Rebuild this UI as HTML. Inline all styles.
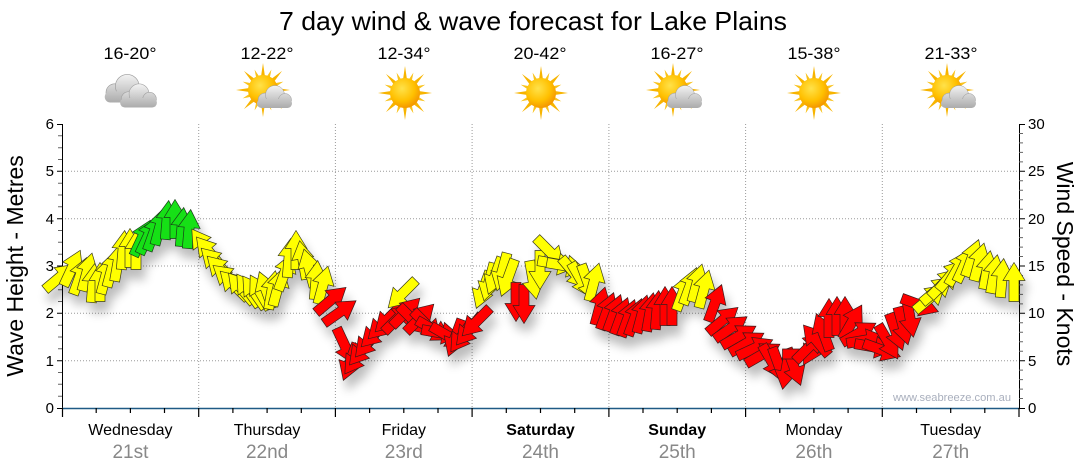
<!DOCTYPE html>
<html><head><meta charset="utf-8"><style>
html,body{margin:0;padding:0;background:#fff;}
svg{display:block;font-family:"Liberation Sans",Arial,sans-serif;}
.y{fill:#ffff00;stroke:#3a3a1a;stroke-width:0.7;}
.g{fill:#14e014;stroke:#1a3a1a;stroke-width:0.7;}
.r{fill:#ff0000;stroke:#3a1a1a;stroke-width:0.7;}
.ray{fill:#f7b400;}
.ray2{fill:#f9c21a;}
</style></head><body>
<svg width="1080" height="475" viewBox="0 0 1080 475" xmlns="http://www.w3.org/2000/svg">
<defs>
<filter id="sh" x="-10%" y="-20%" width="120%" height="160%">
<feGaussianBlur in="SourceAlpha" stdDeviation="5"/>
<feOffset dx="4" dy="10"/>
<feComponentTransfer><feFuncA type="linear" slope="0.26"/></feComponentTransfer>
<feMerge><feMergeNode/><feMergeNode in="SourceGraphic"/></feMerge>
</filter>
<radialGradient id="sunG" cx="0.4" cy="0.35" r="0.7">
<stop offset="0" stop-color="#ffe24a"/><stop offset="0.6" stop-color="#ffc000"/><stop offset="1" stop-color="#f29000"/>
</radialGradient>
<linearGradient id="cl" gradientUnits="userSpaceOnUse" x1="0" y1="-13" x2="0" y2="11">
<stop offset="0" stop-color="#f4f4f4"/><stop offset="1" stop-color="#a8a8a8"/>
</linearGradient>
</defs>

<!-- Title -->
<text x="279" y="30" font-size="26" textLength="508" lengthAdjust="spacingAndGlyphs" fill="#000">7 day wind &amp; wave forecast for Lake Plains</text>

<!-- Temps -->
<g font-size="16.5" fill="#000">
<text x="103.5" y="59" textLength="53" lengthAdjust="spacingAndGlyphs">16-20°</text>
<text x="240.5" y="59" textLength="53" lengthAdjust="spacingAndGlyphs">12-22°</text>
<text x="377.5" y="59" textLength="53" lengthAdjust="spacingAndGlyphs">12-34°</text>
<text x="513.5" y="59" textLength="53" lengthAdjust="spacingAndGlyphs">20-42°</text>
<text x="650.5" y="59" textLength="53" lengthAdjust="spacingAndGlyphs">16-27°</text>
<text x="787.5" y="59" textLength="53" lengthAdjust="spacingAndGlyphs">15-38°</text>
<text x="924.5" y="59" textLength="53" lengthAdjust="spacingAndGlyphs">21-33°</text>
</g>

<!-- Icons: Wednesday clouds -->
<g transform="translate(126 90) scale(1.25)" stroke="#9a9a9a" stroke-width="0.5">
<circle cx="-9" cy="2" r="7" fill="url(#cl)"/><circle cx="1" cy="-3" r="9.5" fill="url(#cl)"/><circle cx="11" cy="2" r="6.5" fill="url(#cl)"/>
<rect x="-17" y="1" width="35" height="9" rx="4.5" fill="url(#cl)" stroke="none"/>
</g>
<g transform="translate(138 97) scale(1.05)" stroke="#9a9a9a" stroke-width="0.5">
<circle cx="-9" cy="2" r="7" fill="url(#cl)"/><circle cx="1" cy="-3" r="9.5" fill="url(#cl)"/><circle cx="11" cy="2" r="6.5" fill="url(#cl)"/>
<rect x="-17" y="1" width="35" height="9" rx="4.5" fill="url(#cl)" stroke="none"/>
</g>

<g transform="translate(263 90)">
<g class="ray"><polygon points="-2.2,-12 0,-27 2.2,-12"/><polygon points="-2.2,-12 0,-27 2.2,-12" transform="rotate(45)"/><polygon points="-2.2,-12 0,-27 2.2,-12" transform="rotate(90)"/><polygon points="-2.2,-12 0,-27 2.2,-12" transform="rotate(135)"/><polygon points="-2.2,-12 0,-27 2.2,-12" transform="rotate(180)"/><polygon points="-2.2,-12 0,-27 2.2,-12" transform="rotate(225)"/><polygon points="-2.2,-12 0,-27 2.2,-12" transform="rotate(270)"/><polygon points="-2.2,-12 0,-27 2.2,-12" transform="rotate(315)"/></g>
<g class="ray2"><polygon points="-2,-12 0,-22 2,-12" transform="rotate(22.5)"/><polygon points="-2,-12 0,-22 2,-12" transform="rotate(67.5)"/><polygon points="-2,-12 0,-22 2,-12" transform="rotate(112.5)"/><polygon points="-2,-12 0,-22 2,-12" transform="rotate(157.5)"/><polygon points="-2,-12 0,-22 2,-12" transform="rotate(202.5)"/><polygon points="-2,-12 0,-22 2,-12" transform="rotate(247.5)"/><polygon points="-2,-12 0,-22 2,-12" transform="rotate(292.5)"/><polygon points="-2,-12 0,-22 2,-12" transform="rotate(337.5)"/></g>
<circle r="15" fill="url(#sunG)"/>
</g>
<g transform="translate(274 98)" stroke="#999" stroke-width="0.5">
<circle cx="-9" cy="2" r="7" fill="url(#cl)"/><circle cx="1" cy="-3" r="9.5" fill="url(#cl)"/><circle cx="11" cy="2" r="6.5" fill="url(#cl)"/>
<rect x="-17" y="1" width="35" height="9" rx="4.5" fill="url(#cl)" stroke="none"/>
</g>

<g transform="translate(405 93)">
<g class="ray"><polygon points="-2.2,-12 0,-27 2.2,-12"/><polygon points="-2.2,-12 0,-27 2.2,-12" transform="rotate(45)"/><polygon points="-2.2,-12 0,-27 2.2,-12" transform="rotate(90)"/><polygon points="-2.2,-12 0,-27 2.2,-12" transform="rotate(135)"/><polygon points="-2.2,-12 0,-27 2.2,-12" transform="rotate(180)"/><polygon points="-2.2,-12 0,-27 2.2,-12" transform="rotate(225)"/><polygon points="-2.2,-12 0,-27 2.2,-12" transform="rotate(270)"/><polygon points="-2.2,-12 0,-27 2.2,-12" transform="rotate(315)"/></g>
<g class="ray2"><polygon points="-2,-12 0,-22 2,-12" transform="rotate(22.5)"/><polygon points="-2,-12 0,-22 2,-12" transform="rotate(67.5)"/><polygon points="-2,-12 0,-22 2,-12" transform="rotate(112.5)"/><polygon points="-2,-12 0,-22 2,-12" transform="rotate(157.5)"/><polygon points="-2,-12 0,-22 2,-12" transform="rotate(202.5)"/><polygon points="-2,-12 0,-22 2,-12" transform="rotate(247.5)"/><polygon points="-2,-12 0,-22 2,-12" transform="rotate(292.5)"/><polygon points="-2,-12 0,-22 2,-12" transform="rotate(337.5)"/></g>
<circle r="15" fill="url(#sunG)"/>
</g>

<g transform="translate(541 93)">
<g class="ray"><polygon points="-2.2,-12 0,-27 2.2,-12"/><polygon points="-2.2,-12 0,-27 2.2,-12" transform="rotate(45)"/><polygon points="-2.2,-12 0,-27 2.2,-12" transform="rotate(90)"/><polygon points="-2.2,-12 0,-27 2.2,-12" transform="rotate(135)"/><polygon points="-2.2,-12 0,-27 2.2,-12" transform="rotate(180)"/><polygon points="-2.2,-12 0,-27 2.2,-12" transform="rotate(225)"/><polygon points="-2.2,-12 0,-27 2.2,-12" transform="rotate(270)"/><polygon points="-2.2,-12 0,-27 2.2,-12" transform="rotate(315)"/></g>
<g class="ray2"><polygon points="-2,-12 0,-22 2,-12" transform="rotate(22.5)"/><polygon points="-2,-12 0,-22 2,-12" transform="rotate(67.5)"/><polygon points="-2,-12 0,-22 2,-12" transform="rotate(112.5)"/><polygon points="-2,-12 0,-22 2,-12" transform="rotate(157.5)"/><polygon points="-2,-12 0,-22 2,-12" transform="rotate(202.5)"/><polygon points="-2,-12 0,-22 2,-12" transform="rotate(247.5)"/><polygon points="-2,-12 0,-22 2,-12" transform="rotate(292.5)"/><polygon points="-2,-12 0,-22 2,-12" transform="rotate(337.5)"/></g>
<circle r="15" fill="url(#sunG)"/>
</g>

<g transform="translate(673 90)">
<g class="ray"><polygon points="-2.2,-12 0,-27 2.2,-12"/><polygon points="-2.2,-12 0,-27 2.2,-12" transform="rotate(45)"/><polygon points="-2.2,-12 0,-27 2.2,-12" transform="rotate(90)"/><polygon points="-2.2,-12 0,-27 2.2,-12" transform="rotate(135)"/><polygon points="-2.2,-12 0,-27 2.2,-12" transform="rotate(180)"/><polygon points="-2.2,-12 0,-27 2.2,-12" transform="rotate(225)"/><polygon points="-2.2,-12 0,-27 2.2,-12" transform="rotate(270)"/><polygon points="-2.2,-12 0,-27 2.2,-12" transform="rotate(315)"/></g>
<g class="ray2"><polygon points="-2,-12 0,-22 2,-12" transform="rotate(22.5)"/><polygon points="-2,-12 0,-22 2,-12" transform="rotate(67.5)"/><polygon points="-2,-12 0,-22 2,-12" transform="rotate(112.5)"/><polygon points="-2,-12 0,-22 2,-12" transform="rotate(157.5)"/><polygon points="-2,-12 0,-22 2,-12" transform="rotate(202.5)"/><polygon points="-2,-12 0,-22 2,-12" transform="rotate(247.5)"/><polygon points="-2,-12 0,-22 2,-12" transform="rotate(292.5)"/><polygon points="-2,-12 0,-22 2,-12" transform="rotate(337.5)"/></g>
<circle r="15" fill="url(#sunG)"/>
</g>
<g transform="translate(684 98)" stroke="#999" stroke-width="0.5">
<circle cx="-9" cy="2" r="7" fill="url(#cl)"/><circle cx="1" cy="-3" r="9.5" fill="url(#cl)"/><circle cx="11" cy="2" r="6.5" fill="url(#cl)"/>
<rect x="-17" y="1" width="35" height="9" rx="4.5" fill="url(#cl)" stroke="none"/>
</g>

<g transform="translate(814 93)">
<g class="ray"><polygon points="-2.2,-12 0,-27 2.2,-12"/><polygon points="-2.2,-12 0,-27 2.2,-12" transform="rotate(45)"/><polygon points="-2.2,-12 0,-27 2.2,-12" transform="rotate(90)"/><polygon points="-2.2,-12 0,-27 2.2,-12" transform="rotate(135)"/><polygon points="-2.2,-12 0,-27 2.2,-12" transform="rotate(180)"/><polygon points="-2.2,-12 0,-27 2.2,-12" transform="rotate(225)"/><polygon points="-2.2,-12 0,-27 2.2,-12" transform="rotate(270)"/><polygon points="-2.2,-12 0,-27 2.2,-12" transform="rotate(315)"/></g>
<g class="ray2"><polygon points="-2,-12 0,-22 2,-12" transform="rotate(22.5)"/><polygon points="-2,-12 0,-22 2,-12" transform="rotate(67.5)"/><polygon points="-2,-12 0,-22 2,-12" transform="rotate(112.5)"/><polygon points="-2,-12 0,-22 2,-12" transform="rotate(157.5)"/><polygon points="-2,-12 0,-22 2,-12" transform="rotate(202.5)"/><polygon points="-2,-12 0,-22 2,-12" transform="rotate(247.5)"/><polygon points="-2,-12 0,-22 2,-12" transform="rotate(292.5)"/><polygon points="-2,-12 0,-22 2,-12" transform="rotate(337.5)"/></g>
<circle r="15" fill="url(#sunG)"/>
</g>

<g transform="translate(947 90)">
<g class="ray"><polygon points="-2.2,-12 0,-27 2.2,-12"/><polygon points="-2.2,-12 0,-27 2.2,-12" transform="rotate(45)"/><polygon points="-2.2,-12 0,-27 2.2,-12" transform="rotate(90)"/><polygon points="-2.2,-12 0,-27 2.2,-12" transform="rotate(135)"/><polygon points="-2.2,-12 0,-27 2.2,-12" transform="rotate(180)"/><polygon points="-2.2,-12 0,-27 2.2,-12" transform="rotate(225)"/><polygon points="-2.2,-12 0,-27 2.2,-12" transform="rotate(270)"/><polygon points="-2.2,-12 0,-27 2.2,-12" transform="rotate(315)"/></g>
<g class="ray2"><polygon points="-2,-12 0,-22 2,-12" transform="rotate(22.5)"/><polygon points="-2,-12 0,-22 2,-12" transform="rotate(67.5)"/><polygon points="-2,-12 0,-22 2,-12" transform="rotate(112.5)"/><polygon points="-2,-12 0,-22 2,-12" transform="rotate(157.5)"/><polygon points="-2,-12 0,-22 2,-12" transform="rotate(202.5)"/><polygon points="-2,-12 0,-22 2,-12" transform="rotate(247.5)"/><polygon points="-2,-12 0,-22 2,-12" transform="rotate(292.5)"/><polygon points="-2,-12 0,-22 2,-12" transform="rotate(337.5)"/></g>
<circle r="15" fill="url(#sunG)"/>
</g>
<g transform="translate(958 98)" stroke="#999" stroke-width="0.5">
<circle cx="-9" cy="2" r="7" fill="url(#cl)"/><circle cx="1" cy="-3" r="9.5" fill="url(#cl)"/><circle cx="11" cy="2" r="6.5" fill="url(#cl)"/>
<rect x="-17" y="1" width="35" height="9" rx="4.5" fill="url(#cl)" stroke="none"/>
</g>

<!-- Grid -->
<g stroke="#9a9a9a" stroke-width="1" stroke-dasharray="1 2" fill="none">
<path d="M62 360.7H1019M62 313.3H1019M62 266H1019M62 218.7H1019M62 171.3H1019"/>
<path d="M198.7 124V408M335.4 124V408M472.1 124V408M608.9 124V408M745.6 124V408M882.3 124V408"/>
</g>

<!-- Left axis -->
<path d="M62.5 124V408" stroke="#000" stroke-width="1"/>
<path d="M57 408.5h5M57 360.7h5M57 313.3h5M57 266h5M57 218.7h5M57 171.3h5M57 124.5h5" stroke="#000" stroke-width="1"/>
<path d="M58 396.2h4M58 384.3h4M58 372.5h4M58 348.8h4M58 337h4M58 325.2h4M58 301.5h4M58 289.7h4M58 277.8h4M58 254.2h4M58 242.3h4M58 230.5h4M58 206.8h4M58 195h4M58 183.2h4M58 159.5h4M58 147.7h4M58 135.8h4" stroke="#666" stroke-width="1"/>
<g font-size="15" text-anchor="end" fill="#000">
<text x="54" y="413">0</text><text x="54" y="366">1</text><text x="54" y="318">2</text><text x="54" y="271">3</text><text x="54" y="224">4</text><text x="54" y="176">5</text><text x="54" y="129">6</text>
</g>

<!-- Right axis -->
<path d="M1019.5 124V408" stroke="#000" stroke-width="1"/>
<path d="M1019 408.5h6M1019 360.7h6M1019 313.3h6M1019 266h6M1019 218.7h6M1019 171.3h6M1019 124.5h6" stroke="#000" stroke-width="1"/>
<path d="M1019 398.5h4M1019 389.1h4M1019 379.6h4M1019 370.1h4M1019 351.2h4M1019 341.7h4M1019 332.3h4M1019 322.8h4M1019 303.9h4M1019 294.4h4M1019 284.9h4M1019 275.5h4M1019 256.5h4M1019 247.1h4M1019 237.6h4M1019 228.1h4M1019 209.2h4M1019 199.7h4M1019 190.3h4M1019 180.8h4M1019 161.9h4M1019 152.4h4M1019 142.9h4M1019 133.5h4" stroke="#666" stroke-width="1"/>
<g font-size="15" fill="#000">
<text x="1028" y="413">0</text><text x="1028" y="366">5</text><text x="1028" y="318">10</text><text x="1028" y="271">15</text><text x="1028" y="224">20</text><text x="1028" y="176">25</text><text x="1028" y="129">30</text>
</g>

<!-- Axis titles -->
<text transform="translate(23 266) rotate(-90)" font-size="23" text-anchor="middle" fill="#000">Wave Height - Metres</text>
<text transform="translate(1057 264) rotate(90)" font-size="23" text-anchor="middle" fill="#000">Wind Speed - Knots</text>

<!-- Watermark -->
<text x="893" y="401" font-size="11" fill="#a9afbd" textLength="118" lengthAdjust="spacingAndGlyphs">www.seabreeze.com.au</text>

<!-- Arrows -->
<g filter="url(#sh)">
<polygon class="y" transform="translate(60 277) rotate(50)" points="0,-19.5 11,-1.5 5,-1.5 5,19.5 -5,19.5 -5,-1.5 -11,-1.5"/>
<polygon class="y" transform="translate(72 268) rotate(25)" points="0,-19.5 11,-1.5 5,-1.5 5,19.5 -5,19.5 -5,-1.5 -11,-1.5"/>
<polygon class="y" transform="translate(80 276) rotate(20)" points="0,-19.5 11,-1.5 5,-1.5 5,19.5 -5,19.5 -5,-1.5 -11,-1.5"/>
<polygon class="y" transform="translate(87 272) rotate(15)" points="0,-19.5 11,-1.5 5,-1.5 5,19.5 -5,19.5 -5,-1.5 -11,-1.5"/>
<polygon class="y" transform="translate(93 283) rotate(5)" points="0,-19.5 11,-1.5 5,-1.5 5,19.5 -5,19.5 -5,-1.5 -11,-1.5"/>
<polygon class="y" transform="translate(100 282) rotate(0)" points="0,-19.5 11,-1.5 5,-1.5 5,19.5 -5,19.5 -5,-1.5 -11,-1.5"/>
<polygon class="y" transform="translate(106 275) rotate(15)" points="0,-19.5 11,-1.5 5,-1.5 5,19.5 -5,19.5 -5,-1.5 -11,-1.5"/>
<polygon class="y" transform="translate(112 268) rotate(15)" points="0,-19.5 11,-1.5 5,-1.5 5,19.5 -5,19.5 -5,-1.5 -11,-1.5"/>
<polygon class="y" transform="translate(118 262) rotate(10)" points="0,-19.5 11,-1.5 5,-1.5 5,19.5 -5,19.5 -5,-1.5 -11,-1.5"/>
<polygon class="y" transform="translate(123 250) rotate(5)" points="0,-19.5 11,-1.5 5,-1.5 5,19.5 -5,19.5 -5,-1.5 -11,-1.5"/>
<polygon class="y" transform="translate(130 248) rotate(0)" points="0,-19.5 11,-1.5 5,-1.5 5,19.5 -5,19.5 -5,-1.5 -11,-1.5"/>
<polygon class="y" transform="translate(136 250) rotate(0)" points="0,-19.5 11,-1.5 5,-1.5 5,19.5 -5,19.5 -5,-1.5 -11,-1.5"/>
<polygon class="g" transform="translate(142 238) rotate(25)" points="0,-19.5 11,-1.5 5,-1.5 5,19.5 -5,19.5 -5,-1.5 -11,-1.5"/>
<polygon class="g" transform="translate(148 236) rotate(25)" points="0,-19.5 11,-1.5 5,-1.5 5,19.5 -5,19.5 -5,-1.5 -11,-1.5"/>
<polygon class="g" transform="translate(154 232) rotate(20)" points="0,-19.5 11,-1.5 5,-1.5 5,19.5 -5,19.5 -5,-1.5 -11,-1.5"/>
<polygon class="g" transform="translate(160 226) rotate(15)" points="0,-19.5 11,-1.5 5,-1.5 5,19.5 -5,19.5 -5,-1.5 -11,-1.5"/>
<polygon class="g" transform="translate(167 220) rotate(5)" points="0,-19.5 11,-1.5 5,-1.5 5,19.5 -5,19.5 -5,-1.5 -11,-1.5"/>
<polygon class="g" transform="translate(175 219) rotate(0)" points="0,-19.5 11,-1.5 5,-1.5 5,19.5 -5,19.5 -5,-1.5 -11,-1.5"/>
<polygon class="g" transform="translate(182 227) rotate(5)" points="0,-19.5 11,-1.5 5,-1.5 5,19.5 -5,19.5 -5,-1.5 -11,-1.5"/>
<polygon class="g" transform="translate(189 229) rotate(5)" points="0,-19.5 11,-1.5 5,-1.5 5,19.5 -5,19.5 -5,-1.5 -11,-1.5"/>

<polygon class="y" transform="translate(203 245) rotate(-35)" points="0,-19.5 11,-1.5 5,-1.5 5,19.5 -5,19.5 -5,-1.5 -11,-1.5"/>
<polygon class="y" transform="translate(209 252) rotate(-40)" points="0,-19.5 11,-1.5 5,-1.5 5,19.5 -5,19.5 -5,-1.5 -11,-1.5"/>
<polygon class="y" transform="translate(215 262) rotate(-45)" points="0,-19.5 11,-1.5 5,-1.5 5,19.5 -5,19.5 -5,-1.5 -11,-1.5"/>
<polygon class="y" transform="translate(221 270) rotate(-45)" points="0,-19.5 11,-1.5 5,-1.5 5,19.5 -5,19.5 -5,-1.5 -11,-1.5"/>
<polygon class="y" transform="translate(228 278) rotate(-50)" points="0,-19.5 11,-1.5 5,-1.5 5,19.5 -5,19.5 -5,-1.5 -11,-1.5"/>
<polygon class="y" transform="translate(234 285) rotate(-45)" points="0,-19.5 11,-1.5 5,-1.5 5,19.5 -5,19.5 -5,-1.5 -11,-1.5"/>
<polygon class="y" transform="translate(241 288) rotate(-40)" points="0,-19.5 11,-1.5 5,-1.5 5,19.5 -5,19.5 -5,-1.5 -11,-1.5"/>
<polygon class="y" transform="translate(248 290) rotate(-35)" points="0,-19.5 11,-1.5 5,-1.5 5,19.5 -5,19.5 -5,-1.5 -11,-1.5"/>
<polygon class="y" transform="translate(254 292) rotate(-35)" points="0,-19.5 11,-1.5 5,-1.5 5,19.5 -5,19.5 -5,-1.5 -11,-1.5"/>
<polygon class="y" transform="translate(260 292) rotate(-30)" points="0,-19.5 11,-1.5 5,-1.5 5,19.5 -5,19.5 -5,-1.5 -11,-1.5"/>
<polygon class="y" transform="translate(266 290) rotate(-20)" points="0,-19.5 11,-1.5 5,-1.5 5,19.5 -5,19.5 -5,-1.5 -11,-1.5"/>
<polygon class="y" transform="translate(272 290) rotate(10)" points="0,-19.5 11,-1.5 5,-1.5 5,19.5 -5,19.5 -5,-1.5 -11,-1.5"/>
<polygon class="y" transform="translate(278 287) rotate(15)" points="0,-19.5 11,-1.5 5,-1.5 5,19.5 -5,19.5 -5,-1.5 -11,-1.5"/>
<polygon class="y" transform="translate(285 272) rotate(20)" points="0,-19.5 11,-1.5 5,-1.5 5,19.5 -5,19.5 -5,-1.5 -11,-1.5"/>
<polygon class="y" transform="translate(289 258) rotate(5)" points="0,-19.5 11,-1.5 5,-1.5 5,19.5 -5,19.5 -5,-1.5 -11,-1.5"/>
<polygon class="y" transform="translate(296 250) rotate(0)" points="0,-19.5 11,-1.5 5,-1.5 5,19.5 -5,19.5 -5,-1.5 -11,-1.5"/>
<polygon class="y" transform="translate(303 260) rotate(-10)" points="0,-19.5 11,-1.5 5,-1.5 5,19.5 -5,19.5 -5,-1.5 -11,-1.5"/>
<polygon class="y" transform="translate(309 268) rotate(-15)" points="0,-19.5 11,-1.5 5,-1.5 5,19.5 -5,19.5 -5,-1.5 -11,-1.5"/>
<polygon class="y" transform="translate(316 280) rotate(5)" points="0,-19.5 11,-1.5 5,-1.5 5,19.5 -5,19.5 -5,-1.5 -11,-1.5"/>
<polygon class="y" transform="translate(323 285) rotate(15)" points="0,-19.5 11,-1.5 5,-1.5 5,19.5 -5,19.5 -5,-1.5 -11,-1.5"/>

<polygon class="r" transform="translate(331 300) rotate(50)" points="0,-19.5 11,-1.5 5,-1.5 5,19.5 -5,19.5 -5,-1.5 -11,-1.5"/>
<polygon class="r" transform="translate(340 312) rotate(55)" points="0,-19.5 11,-1.5 5,-1.5 5,19.5 -5,19.5 -5,-1.5 -11,-1.5"/>
<polygon class="r" transform="translate(345 346) rotate(155)" points="0,-19.5 11,-1.5 5,-1.5 5,19.5 -5,19.5 -5,-1.5 -11,-1.5"/>
<polygon class="r" transform="translate(350 362) rotate(200)" points="0,-19.5 11,-1.5 5,-1.5 5,19.5 -5,19.5 -5,-1.5 -11,-1.5"/>
<polygon class="r" transform="translate(356 358) rotate(215)" points="0,-19.5 11,-1.5 5,-1.5 5,19.5 -5,19.5 -5,-1.5 -11,-1.5"/>
<polygon class="r" transform="translate(362 350) rotate(220)" points="0,-19.5 11,-1.5 5,-1.5 5,19.5 -5,19.5 -5,-1.5 -11,-1.5"/>
<polygon class="r" transform="translate(368 342) rotate(220)" points="0,-19.5 11,-1.5 5,-1.5 5,19.5 -5,19.5 -5,-1.5 -11,-1.5"/>
<polygon class="r" transform="translate(375 333) rotate(225)" points="0,-19.5 11,-1.5 5,-1.5 5,19.5 -5,19.5 -5,-1.5 -11,-1.5"/>
<polygon class="r" transform="translate(382 325) rotate(225)" points="0,-19.5 11,-1.5 5,-1.5 5,19.5 -5,19.5 -5,-1.5 -11,-1.5"/>
<polygon class="r" transform="translate(389 318) rotate(225)" points="0,-19.5 11,-1.5 5,-1.5 5,19.5 -5,19.5 -5,-1.5 -11,-1.5"/>
<polygon class="y" transform="translate(402 294) rotate(225)" points="0,-19.5 11,-1.5 5,-1.5 5,19.5 -5,19.5 -5,-1.5 -11,-1.5"/>
<polygon class="r" transform="translate(398 318) rotate(45)" points="0,-19.5 11,-1.5 5,-1.5 5,19.5 -5,19.5 -5,-1.5 -11,-1.5"/>
<polygon class="r" transform="translate(406 312) rotate(45)" points="0,-19.5 11,-1.5 5,-1.5 5,19.5 -5,19.5 -5,-1.5 -11,-1.5"/>
<polygon class="r" transform="translate(413 320) rotate(135)" points="0,-19.5 11,-1.5 5,-1.5 5,19.5 -5,19.5 -5,-1.5 -11,-1.5"/>
<polygon class="r" transform="translate(420 318) rotate(45)" points="0,-19.5 11,-1.5 5,-1.5 5,19.5 -5,19.5 -5,-1.5 -11,-1.5"/>
<polygon class="r" transform="translate(427 325) rotate(135)" points="0,-19.5 11,-1.5 5,-1.5 5,19.5 -5,19.5 -5,-1.5 -11,-1.5"/>
<polygon class="r" transform="translate(434 330) rotate(120)" points="0,-19.5 11,-1.5 5,-1.5 5,19.5 -5,19.5 -5,-1.5 -11,-1.5"/>
<polygon class="r" transform="translate(441 333) rotate(100)" points="0,-19.5 11,-1.5 5,-1.5 5,19.5 -5,19.5 -5,-1.5 -11,-1.5"/>
<polygon class="r" transform="translate(448 336) rotate(120)" points="0,-19.5 11,-1.5 5,-1.5 5,19.5 -5,19.5 -5,-1.5 -11,-1.5"/>
<polygon class="r" transform="translate(455 338) rotate(200)" points="0,-19.5 11,-1.5 5,-1.5 5,19.5 -5,19.5 -5,-1.5 -11,-1.5"/>
<polygon class="r" transform="translate(462 336) rotate(215)" points="0,-19.5 11,-1.5 5,-1.5 5,19.5 -5,19.5 -5,-1.5 -11,-1.5"/>
<polygon class="r" transform="translate(469 330) rotate(220)" points="0,-19.5 11,-1.5 5,-1.5 5,19.5 -5,19.5 -5,-1.5 -11,-1.5"/>
<polygon class="r" transform="translate(476 322) rotate(225)" points="0,-19.5 11,-1.5 5,-1.5 5,19.5 -5,19.5 -5,-1.5 -11,-1.5"/>

<polygon class="y" transform="translate(483 290) rotate(200)" points="0,-19.5 11,-1.5 5,-1.5 5,19.5 -5,19.5 -5,-1.5 -11,-1.5"/>
<polygon class="y" transform="translate(489 282) rotate(195)" points="0,-19.5 11,-1.5 5,-1.5 5,19.5 -5,19.5 -5,-1.5 -11,-1.5"/>
<polygon class="y" transform="translate(495 276) rotate(200)" points="0,-19.5 11,-1.5 5,-1.5 5,19.5 -5,19.5 -5,-1.5 -11,-1.5"/>
<polygon class="y" transform="translate(502 272) rotate(195)" points="0,-19.5 11,-1.5 5,-1.5 5,19.5 -5,19.5 -5,-1.5 -11,-1.5"/>
<polygon class="y" transform="translate(508 278) rotate(200)" points="0,-19.5 11,-1.5 5,-1.5 5,19.5 -5,19.5 -5,-1.5 -11,-1.5"/>
<polygon class="r" transform="translate(516 302) rotate(180)" points="0,-19.5 11,-1.5 5,-1.5 5,19.5 -5,19.5 -5,-1.5 -11,-1.5"/>
<polygon class="r" transform="translate(524 304) rotate(180)" points="0,-19.5 11,-1.5 5,-1.5 5,19.5 -5,19.5 -5,-1.5 -11,-1.5"/>
<polygon class="y" transform="translate(533 280) rotate(170)" points="0,-19.5 11,-1.5 5,-1.5 5,19.5 -5,19.5 -5,-1.5 -11,-1.5"/>
<polygon class="y" transform="translate(540 270) rotate(180)" points="0,-19.5 11,-1.5 5,-1.5 5,19.5 -5,19.5 -5,-1.5 -11,-1.5"/>
<polygon class="y" transform="translate(550 252) rotate(135)" points="0,-19.5 11,-1.5 5,-1.5 5,19.5 -5,19.5 -5,-1.5 -11,-1.5"/>
<polygon class="y" transform="translate(557 264) rotate(100)" points="0,-19.5 11,-1.5 5,-1.5 5,19.5 -5,19.5 -5,-1.5 -11,-1.5"/>
<polygon class="y" transform="translate(566 266) rotate(100)" points="0,-19.5 11,-1.5 5,-1.5 5,19.5 -5,19.5 -5,-1.5 -11,-1.5"/>
<polygon class="y" transform="translate(574 273) rotate(140)" points="0,-19.5 11,-1.5 5,-1.5 5,19.5 -5,19.5 -5,-1.5 -11,-1.5"/>
<polygon class="y" transform="translate(581 280) rotate(150)" points="0,-19.5 11,-1.5 5,-1.5 5,19.5 -5,19.5 -5,-1.5 -11,-1.5"/>
<polygon class="y" transform="translate(588 283) rotate(160)" points="0,-19.5 11,-1.5 5,-1.5 5,19.5 -5,19.5 -5,-1.5 -11,-1.5"/>
<polygon class="y" transform="translate(594 282) rotate(15)" points="0,-19.5 11,-1.5 5,-1.5 5,19.5 -5,19.5 -5,-1.5 -11,-1.5"/>

<polygon class="r" transform="translate(600 306) rotate(15)" points="0,-19.5 11,-1.5 5,-1.5 5,19.5 -5,19.5 -5,-1.5 -11,-1.5"/>
<polygon class="r" transform="translate(607 311) rotate(20)" points="0,-19.5 11,-1.5 5,-1.5 5,19.5 -5,19.5 -5,-1.5 -11,-1.5"/>
<polygon class="r" transform="translate(614 313) rotate(20)" points="0,-19.5 11,-1.5 5,-1.5 5,19.5 -5,19.5 -5,-1.5 -11,-1.5"/>
<polygon class="r" transform="translate(621 316) rotate(20)" points="0,-19.5 11,-1.5 5,-1.5 5,19.5 -5,19.5 -5,-1.5 -11,-1.5"/>
<polygon class="r" transform="translate(628 318) rotate(20)" points="0,-19.5 11,-1.5 5,-1.5 5,19.5 -5,19.5 -5,-1.5 -11,-1.5"/>
<polygon class="r" transform="translate(635 317) rotate(20)" points="0,-19.5 11,-1.5 5,-1.5 5,19.5 -5,19.5 -5,-1.5 -11,-1.5"/>
<polygon class="r" transform="translate(642 314) rotate(15)" points="0,-19.5 11,-1.5 5,-1.5 5,19.5 -5,19.5 -5,-1.5 -11,-1.5"/>
<polygon class="r" transform="translate(650 312) rotate(10)" points="0,-19.5 11,-1.5 5,-1.5 5,19.5 -5,19.5 -5,-1.5 -11,-1.5"/>
<polygon class="r" transform="translate(657 310) rotate(5)" points="0,-19.5 11,-1.5 5,-1.5 5,19.5 -5,19.5 -5,-1.5 -11,-1.5"/>
<polygon class="r" transform="translate(665 306) rotate(0)" points="0,-19.5 11,-1.5 5,-1.5 5,19.5 -5,19.5 -5,-1.5 -11,-1.5"/>
<polygon class="r" transform="translate(672 306) rotate(0)" points="0,-19.5 11,-1.5 5,-1.5 5,19.5 -5,19.5 -5,-1.5 -11,-1.5"/>
<polygon class="y" transform="translate(683 292) rotate(20)" points="0,-19.5 11,-1.5 5,-1.5 5,19.5 -5,19.5 -5,-1.5 -11,-1.5"/>
<polygon class="y" transform="translate(690 286) rotate(20)" points="0,-19.5 11,-1.5 5,-1.5 5,19.5 -5,19.5 -5,-1.5 -11,-1.5"/>
<polygon class="y" transform="translate(697 283) rotate(15)" points="0,-19.5 11,-1.5 5,-1.5 5,19.5 -5,19.5 -5,-1.5 -11,-1.5"/>
<polygon class="y" transform="translate(704 289) rotate(15)" points="0,-19.5 11,-1.5 5,-1.5 5,19.5 -5,19.5 -5,-1.5 -11,-1.5"/>
<polygon class="r" transform="translate(715 303) rotate(20)" points="0,-19.5 11,-1.5 5,-1.5 5,19.5 -5,19.5 -5,-1.5 -11,-1.5"/>
<polygon class="r" transform="translate(723 320) rotate(50)" points="0,-19.5 11,-1.5 5,-1.5 5,19.5 -5,19.5 -5,-1.5 -11,-1.5"/>
<polygon class="r" transform="translate(731 328) rotate(55)" points="0,-19.5 11,-1.5 5,-1.5 5,19.5 -5,19.5 -5,-1.5 -11,-1.5"/>
<polygon class="r" transform="translate(739 336) rotate(60)" points="0,-19.5 11,-1.5 5,-1.5 5,19.5 -5,19.5 -5,-1.5 -11,-1.5"/>
<polygon class="r" transform="translate(747 343) rotate(60)" points="0,-19.5 11,-1.5 5,-1.5 5,19.5 -5,19.5 -5,-1.5 -11,-1.5"/>
<polygon class="r" transform="translate(755 348) rotate(65)" points="0,-19.5 11,-1.5 5,-1.5 5,19.5 -5,19.5 -5,-1.5 -11,-1.5"/>
<polygon class="r" transform="translate(763 354) rotate(60)" points="0,-19.5 11,-1.5 5,-1.5 5,19.5 -5,19.5 -5,-1.5 -11,-1.5"/>

<polygon class="r" transform="translate(772 362) rotate(150)" points="0,-19.5 11,-1.5 5,-1.5 5,19.5 -5,19.5 -5,-1.5 -11,-1.5"/>
<polygon class="r" transform="translate(779 366) rotate(160)" points="0,-19.5 11,-1.5 5,-1.5 5,19.5 -5,19.5 -5,-1.5 -11,-1.5"/>
<polygon class="r" transform="translate(786 370) rotate(190)" points="0,-19.5 11,-1.5 5,-1.5 5,19.5 -5,19.5 -5,-1.5 -11,-1.5"/>
<polygon class="r" transform="translate(794 367) rotate(160)" points="0,-19.5 11,-1.5 5,-1.5 5,19.5 -5,19.5 -5,-1.5 -11,-1.5"/>
<polygon class="r" transform="translate(802 354) rotate(90)" points="0,-19.5 11,-1.5 5,-1.5 5,19.5 -5,19.5 -5,-1.5 -11,-1.5"/>
<polygon class="r" transform="translate(809 347) rotate(45)" points="0,-19.5 11,-1.5 5,-1.5 5,19.5 -5,19.5 -5,-1.5 -11,-1.5"/>
<polygon class="r" transform="translate(816 340) rotate(-40)" points="0,-19.5 11,-1.5 5,-1.5 5,19.5 -5,19.5 -5,-1.5 -11,-1.5"/>
<polygon class="r" transform="translate(823 332) rotate(-20)" points="0,-19.5 11,-1.5 5,-1.5 5,19.5 -5,19.5 -5,-1.5 -11,-1.5"/>
<polygon class="r" transform="translate(829 318) rotate(0)" points="0,-19.5 11,-1.5 5,-1.5 5,19.5 -5,19.5 -5,-1.5 -11,-1.5"/>
<polygon class="r" transform="translate(837 316) rotate(0)" points="0,-19.5 11,-1.5 5,-1.5 5,19.5 -5,19.5 -5,-1.5 -11,-1.5"/>
<polygon class="r" transform="translate(845 316) rotate(0)" points="0,-19.5 11,-1.5 5,-1.5 5,19.5 -5,19.5 -5,-1.5 -11,-1.5"/>
<polygon class="r" transform="translate(852 322) rotate(30)" points="0,-19.5 11,-1.5 5,-1.5 5,19.5 -5,19.5 -5,-1.5 -11,-1.5"/>
<polygon class="r" transform="translate(859 333) rotate(60)" points="0,-19.5 11,-1.5 5,-1.5 5,19.5 -5,19.5 -5,-1.5 -11,-1.5"/>
<polygon class="r" transform="translate(866 340) rotate(80)" points="0,-19.5 11,-1.5 5,-1.5 5,19.5 -5,19.5 -5,-1.5 -11,-1.5"/>
<polygon class="r" transform="translate(874 347) rotate(100)" points="0,-19.5 11,-1.5 5,-1.5 5,19.5 -5,19.5 -5,-1.5 -11,-1.5"/>
<polygon class="r" transform="translate(882 350) rotate(110)" points="0,-19.5 11,-1.5 5,-1.5 5,19.5 -5,19.5 -5,-1.5 -11,-1.5"/>
<polygon class="r" transform="translate(888 342) rotate(150)" points="0,-19.5 11,-1.5 5,-1.5 5,19.5 -5,19.5 -5,-1.5 -11,-1.5"/>
<polygon class="r" transform="translate(896 332) rotate(160)" points="0,-19.5 11,-1.5 5,-1.5 5,19.5 -5,19.5 -5,-1.5 -11,-1.5"/>
<polygon class="r" transform="translate(903 326) rotate(165)" points="0,-19.5 11,-1.5 5,-1.5 5,19.5 -5,19.5 -5,-1.5 -11,-1.5"/>
<polygon class="r" transform="translate(910 318) rotate(170)" points="0,-19.5 11,-1.5 5,-1.5 5,19.5 -5,19.5 -5,-1.5 -11,-1.5"/>
<polygon class="r" transform="translate(920 305) rotate(110)" points="0,-19.5 11,-1.5 5,-1.5 5,19.5 -5,19.5 -5,-1.5 -11,-1.5"/>

<polygon class="y" transform="translate(930 298) rotate(50)" points="0,-19.5 11,-1.5 5,-1.5 5,19.5 -5,19.5 -5,-1.5 -11,-1.5"/>
<polygon class="y" transform="translate(937 290) rotate(50)" points="0,-19.5 11,-1.5 5,-1.5 5,19.5 -5,19.5 -5,-1.5 -11,-1.5"/>
<polygon class="y" transform="translate(944 283) rotate(45)" points="0,-19.5 11,-1.5 5,-1.5 5,19.5 -5,19.5 -5,-1.5 -11,-1.5"/>
<polygon class="y" transform="translate(951 275) rotate(40)" points="0,-19.5 11,-1.5 5,-1.5 5,19.5 -5,19.5 -5,-1.5 -11,-1.5"/>
<polygon class="y" transform="translate(958 268) rotate(30)" points="0,-19.5 11,-1.5 5,-1.5 5,19.5 -5,19.5 -5,-1.5 -11,-1.5"/>
<polygon class="y" transform="translate(965 264) rotate(25)" points="0,-19.5 11,-1.5 5,-1.5 5,19.5 -5,19.5 -5,-1.5 -11,-1.5"/>
<polygon class="y" transform="translate(972 258) rotate(20)" points="0,-19.5 11,-1.5 5,-1.5 5,19.5 -5,19.5 -5,-1.5 -11,-1.5"/>
<polygon class="y" transform="translate(979 262) rotate(15)" points="0,-19.5 11,-1.5 5,-1.5 5,19.5 -5,19.5 -5,-1.5 -11,-1.5"/>
<polygon class="y" transform="translate(987 270) rotate(10)" points="0,-19.5 11,-1.5 5,-1.5 5,19.5 -5,19.5 -5,-1.5 -11,-1.5"/>
<polygon class="y" transform="translate(994 274) rotate(10)" points="0,-19.5 11,-1.5 5,-1.5 5,19.5 -5,19.5 -5,-1.5 -11,-1.5"/>
<polygon class="y" transform="translate(1002 278) rotate(5)" points="0,-19.5 11,-1.5 5,-1.5 5,19.5 -5,19.5 -5,-1.5 -11,-1.5"/>
<polygon class="y" transform="translate(1014 282) rotate(0)" points="0,-19.5 11,-1.5 5,-1.5 5,19.5 -5,19.5 -5,-1.5 -11,-1.5"/>
</g>

<!-- Bottom axis -->
<path d="M62 408.5H1019" stroke="#1f5a85" stroke-width="1.6"/>
<path d="M62.5 408v9M198.7 408v9M335.4 408v9M472.1 408v9M608.9 408v9M745.6 408v9M882.3 408v9M1019 408v9" stroke="#000" stroke-width="1.2"/>
<path d="M96.2 408v5M130.4 408v5M164.5 408v5M232.9 408v5M267.1 408v5M301.3 408v5M369.6 408v5M403.8 408v5M438 408v5M506.3 408v5M540.5 408v5M574.7 408v5M643 408v5M677.2 408v5M711.4 408v5M779.8 408v5M813.9 408v5M848.1 408v5M916.5 408v5M950.7 408v5M984.8 408v5" stroke="#000" stroke-width="1.2"/>

<!-- Day labels -->
<g font-size="16" text-anchor="middle" fill="#000">
<text x="130.4" y="435">Wednesday</text>
<text x="267.1" y="435">Thursday</text>
<text x="403.8" y="435">Friday</text>
<text x="540.5" y="435" font-weight="bold">Saturday</text>
<text x="677.2" y="435" font-weight="bold">Sunday</text>
<text x="813.9" y="435">Monday</text>
<text x="950.7" y="435">Tuesday</text>
</g>
<g font-size="19" text-anchor="middle" fill="#888">
<text x="130.4" y="458">21st</text>
<text x="267.1" y="458">22nd</text>
<text x="403.8" y="458">23rd</text>
<text x="540.5" y="458">24th</text>
<text x="677.2" y="458">25th</text>
<text x="813.9" y="458">26th</text>
<text x="950.7" y="458">27th</text>
</g>
</svg>
</body></html>
